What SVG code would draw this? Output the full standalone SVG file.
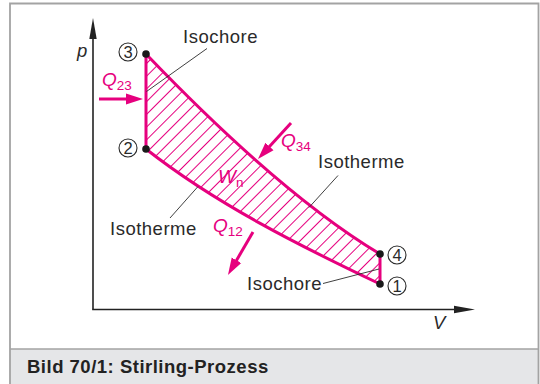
<svg xmlns="http://www.w3.org/2000/svg" width="540" height="384" viewBox="0 0 540 384">
<style>
.t{font-family:"Liberation Sans",Arial,sans-serif;font-size:18.5px;letter-spacing:0.5px;fill:#2a2a2a}
.pk{font-family:"Liberation Sans",Arial,sans-serif;font-size:19px;fill:#e6007e}
.it{font-style:italic}
.sub{font-size:13.5px;font-style:normal}
.lead{stroke:#2a2a2a;stroke-width:0.9;fill:none}
.ax{stroke:#222;stroke-width:1.6;fill:none}
.num{fill:#fff;stroke:#2a2a2a;stroke-width:1.1}
.numt{font-family:"Liberation Sans",Arial,sans-serif;font-size:16.5px;fill:#2a2a2a;text-anchor:middle}
.pt{fill:#1a1a1a}
.parr{stroke:#e6007e;stroke-width:3;fill:none}
</style>
<defs>
<pattern id="hatch" patternUnits="userSpaceOnUse" width="9" height="9" patternTransform="rotate(-45)">
<line x1="0" y1="4.5" x2="9" y2="4.5" stroke="#e6007e" stroke-width="1"/>
</pattern>
<marker id="ph" markerUnits="userSpaceOnUse" markerWidth="18" markerHeight="12" refX="1" refY="6" orient="auto">
<path d="M0,0.5 L17,6 L0,11.5 Z" fill="#e6007e"/>
</marker>
<marker id="ah" markerUnits="userSpaceOnUse" markerWidth="22" markerHeight="9" refX="1" refY="4.5" orient="auto">
<path d="M0,0.8 L21,4.5 L0,8.2 Z" fill="#222"/>
</marker>
</defs>
<rect x="0" y="0" width="540" height="384" fill="#fff"/>
<g id="frame">
<rect x="10" y="349" width="528" height="36" fill="#e5e6e8"/>
<path d="M10,385 V3.5 H538.5 V385" fill="none" stroke="#a3a3a3" stroke-width="1.8"/>
<line x1="10" y1="349" x2="538.5" y2="349" stroke="#a3a3a3" stroke-width="1.5"/>
<text x="27" y="373" font-family="'Liberation Sans',Arial,sans-serif" font-size="18.5" font-weight="bold" letter-spacing="0.5" fill="#222">Bild 70/1: Stirling-Prozess</text>
</g>
<g id="axes">
<path class="ax" d="M93,309.5 V38" marker-end="url(#ah)"/>
<path class="ax" d="M92.2,309.5 H455" marker-end="url(#ah)"/>
<text x="77" y="57" class="t it" font-size="19">p</text>
<text x="433" y="329" class="t it" font-size="19">V</text>
</g>
<g id="cycle">
<path d="M146,54 C216,127 300,206 380,254 L380,284 C300,246 216,204 146,149 Z" fill="url(#hatch)" stroke="#e6007e" stroke-width="3" stroke-linejoin="round"/>
</g>
<g id="connectors">
<path class="parr" d="M99,99 H127" marker-end="url(#ph)"/>
<path class="parr" d="M291,123 L268.8,147.2" marker-end="url(#ph)"/>
<path class="parr" d="M253,232 L236,261.2" marker-end="url(#ph)"/>
<path class="lead" d="M207,48.5 L146.5,91.5"/>
<path class="lead" d="M338,175.5 L309,207.5"/>
<path class="lead" d="M170,218 L198,186.5"/>
<path class="lead" d="M323,283.5 L379,269"/>
</g>
<g id="p3"><circle class="pt" cx="146" cy="54" r="3.8"/><circle class="num" cx="128" cy="52" r="9"/><text class="numt" x="128" y="58">3</text></g>
<g id="p2"><circle class="pt" cx="146" cy="149" r="3.8"/><circle class="num" cx="128" cy="148" r="9"/><text class="numt" x="128" y="154">2</text></g>
<g id="p4"><circle class="pt" cx="380" cy="254" r="3.8"/><circle class="num" cx="397" cy="255" r="9"/><text class="numt" x="397" y="261">4</text></g>
<g id="p1"><circle class="pt" cx="380" cy="284" r="3.8"/><circle class="num" cx="397" cy="286" r="9"/><text class="numt" x="397" y="292">1</text></g>
<g id="labels">
<text class="t" x="183" y="43">Isochore</text>
<text class="t" x="318" y="168">Isotherme</text>
<text class="t" x="110" y="235">Isotherme</text>
<text class="t" x="247" y="290">Isochore</text>
<text class="pk" x="102" y="86"><tspan class="it">Q</tspan><tspan class="sub" dy="3.5">23</tspan></text>
<text class="pk" x="281" y="147"><tspan class="it">Q</tspan><tspan class="sub" dy="3.5">34</tspan></text>
<text class="pk" x="213" y="232"><tspan class="it">Q</tspan><tspan class="sub" dy="3.5">12</tspan></text>
<text class="pk" x="218" y="183"><tspan class="it">W</tspan><tspan class="sub" dy="4">n</tspan></text>
</g>
</svg>
